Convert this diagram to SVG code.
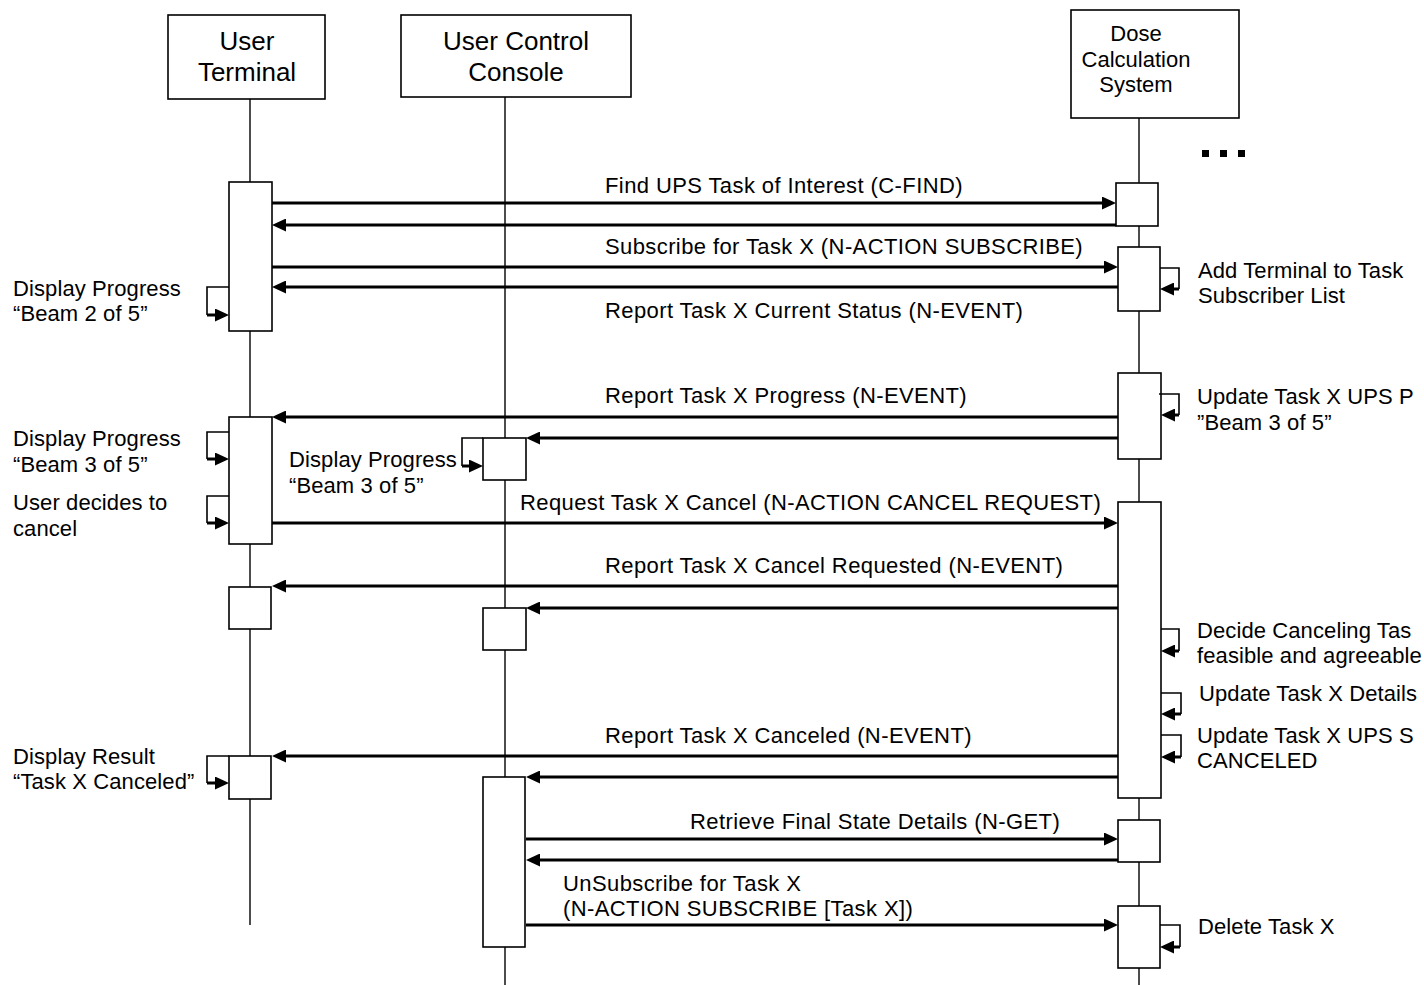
<svg xmlns="http://www.w3.org/2000/svg" width="1424" height="985" viewBox="0 0 1424 985">
  <style>
    text { font-family: "Liberation Sans", Arial, Helvetica, sans-serif; fill: #000; }
    .hdr { font-size: 26px; text-anchor: middle; }
    .hdr2 { font-size: 22px; text-anchor: middle; }
    .lbl { font-size: 22px; letter-spacing: 0.4px; }
    .note { font-size: 22px; letter-spacing: 0.1px; }
    .head { fill: #fff; stroke: #000; stroke-width: 1.6; }
    .life { stroke: #000; stroke-width: 1.4; fill: none; }
    .act { fill: #fff; stroke: #000; stroke-width: 1.6; }
    .msg { stroke: #000; stroke-width: 3; fill: none; marker-end: url(#ah); }
    .loop { stroke: #000; stroke-width: 1.6; fill: none; }
    .loopend { stroke: #000; stroke-width: 3; fill: none; marker-end: url(#ah); }
  </style>
  <defs>
    <marker id="ah" viewBox="0 0 14 13" refX="6" refY="6.5" markerWidth="14" markerHeight="13" markerUnits="userSpaceOnUse" orient="auto">
      <path d="M0,0 L14,6.5 L0,13 z" fill="#000"/>
    </marker>
  </defs>
  <rect width="1424" height="985" fill="#fff"/>

  <!-- lifelines -->
  <g id="lifelines">
    <line class="life" x1="250" y1="99" x2="250" y2="925"/>
    <line class="life" x1="505" y1="97" x2="505" y2="985"/>
    <line class="life" x1="1139" y1="118" x2="1139" y2="985"/>
  </g>

  <!-- participants -->
  <g id="user-terminal">
    <rect class="head" x="168" y="15" width="157" height="84"/>
    <text class="hdr" x="247" y="50">User</text>
    <text class="hdr" x="247" y="81">Terminal</text>
  </g>
  <g id="user-control-console">
    <rect class="head" x="401" y="15" width="230" height="82"/>
    <text class="hdr" x="516" y="50">User Control</text>
    <text class="hdr" x="516" y="81">Console</text>
  </g>
  <g id="dose-calculation-system">
    <rect class="head" x="1071" y="10" width="168" height="108"/>
    <text class="hdr2" x="1136" y="41">Dose</text>
    <text class="hdr2" x="1136" y="67">Calculation</text>
    <text class="hdr2" x="1136" y="92">System</text>
  </g>

  <!-- continuation marks -->
  <g id="ellipsis">
    <rect x="1202" y="150" width="7" height="7" fill="#000"/>
    <rect x="1220" y="150" width="7" height="7" fill="#000"/>
    <rect x="1238" y="150" width="7" height="7" fill="#000"/>
  </g>

  <!-- activation bars -->
  <g id="activations-terminal">
    <rect class="act" x="229" y="182" width="43" height="149"/>
    <rect class="act" x="229" y="417" width="43" height="127"/>
    <rect class="act" x="229" y="587" width="42" height="42"/>
    <rect class="act" x="229" y="756" width="42" height="43"/>
  </g>
  <g id="activations-console">
    <rect class="act" x="483" y="438" width="43" height="42"/>
    <rect class="act" x="483" y="608" width="43" height="42"/>
    <rect class="act" x="483" y="777" width="42" height="170"/>
  </g>
  <g id="activations-dcs">
    <rect class="act" x="1116" y="183" width="42" height="43"/>
    <rect class="act" x="1118" y="247" width="42" height="64"/>
    <rect class="act" x="1118" y="373" width="43" height="86"/>
    <rect class="act" x="1118" y="502" width="43" height="296"/>
    <rect class="act" x="1118" y="820" width="42" height="42"/>
    <rect class="act" x="1118" y="906" width="42" height="62"/>
  </g>

  <!-- messages -->
  <g id="connectors">
    <line class="msg" x1="272" y1="203" x2="1108" y2="203"/>
    <line class="msg" x1="1116" y1="225" x2="280" y2="225"/>
    <line class="msg" x1="272" y1="267" x2="1110" y2="267"/>
    <line class="msg" x1="1118" y1="287" x2="280" y2="287"/>
    <line class="msg" x1="1118" y1="417" x2="280" y2="417"/>
    <line class="msg" x1="1118" y1="438" x2="534" y2="438"/>
    <line class="msg" x1="272" y1="523" x2="1110" y2="523"/>
    <line class="msg" x1="1118" y1="586" x2="280" y2="586"/>
    <line class="msg" x1="1118" y1="608" x2="534" y2="608"/>
    <line class="msg" x1="1118" y1="756" x2="280" y2="756"/>
    <line class="msg" x1="1118" y1="777" x2="534" y2="777"/>
    <line class="msg" x1="526" y1="839" x2="1110" y2="839"/>
    <line class="msg" x1="1118" y1="860" x2="534" y2="860"/>
    <line class="msg" x1="526" y1="925" x2="1110" y2="925"/>

    <!-- self calls, terminal -->
    <polyline class="loop" points="229,287 207,287 207,315"/>
    <line class="loopend" x1="207" y1="315" x2="221" y2="315"/>
    <polyline class="loop" points="229,432 207,432 207,459"/>
    <line class="loopend" x1="207" y1="459" x2="221" y2="459"/>
    <polyline class="loop" points="229,496 207,496 207,523"/>
    <line class="loopend" x1="207" y1="523" x2="221" y2="523"/>
    <polyline class="loop" points="229,756 207,756 207,783"/>
    <line class="loopend" x1="207" y1="783" x2="221" y2="783"/>

    <!-- self call, console -->
    <polyline class="loop" points="483,438 462,438 462,466"/>
    <line class="loopend" x1="462" y1="466" x2="475" y2="466"/>

    <!-- self calls, dose calculation system -->
    <polyline class="loop" points="1160,268 1179,268 1179,289"/>
    <line class="loopend" x1="1179" y1="289" x2="1168" y2="289"/>
    <polyline class="loop" points="1159,394 1179,394 1179,415"/>
    <line class="loopend" x1="1179" y1="415" x2="1169" y2="415"/>
    <polyline class="loop" points="1161,629 1179,629 1179,651"/>
    <line class="loopend" x1="1179" y1="651" x2="1169" y2="651"/>
    <polyline class="loop" points="1161,693 1181,693 1181,714"/>
    <line class="loopend" x1="1181" y1="714" x2="1169" y2="714"/>
    <polyline class="loop" points="1161,735 1181,735 1181,757"/>
    <line class="loopend" x1="1181" y1="757" x2="1169" y2="757"/>
    <polyline class="loop" points="1160,925 1180,925 1180,947"/>
    <line class="loopend" x1="1180" y1="947" x2="1168" y2="947"/>
  </g>

  <!-- message labels -->
  <g id="message-labels">
    <text class="lbl" x="605" y="193">Find UPS Task of Interest (C-FIND)</text>
    <text class="lbl" x="605" y="254">Subscribe for Task X (N-ACTION SUBSCRIBE)</text>
    <text class="lbl" x="605" y="318">Report Task X Current Status (N-EVENT)</text>
    <text class="lbl" x="605" y="403">Report Task X Progress (N-EVENT)</text>
    <text class="lbl" x="520" y="510">Request Task X Cancel (N-ACTION CANCEL REQUEST)</text>
    <text class="lbl" x="605" y="573">Report Task X Cancel Requested (N-EVENT)</text>
    <text class="lbl" x="605" y="743">Report Task X Canceled (N-EVENT)</text>
    <text class="lbl" x="690" y="829">Retrieve Final State Details (N-GET)</text>
    <text class="lbl" x="563" y="891">UnSubscribe for Task X</text>
    <text class="lbl" x="563" y="916">(N-ACTION SUBSCRIBE [Task X])</text>
  </g>

  <!-- activity notes -->
  <g id="notes">
    <text class="note" x="13" y="296">Display Progress</text>
    <text class="note" x="13" y="321">“Beam 2 of 5”</text>
    <text class="note" x="1198" y="278">Add Terminal to Task</text>
    <text class="note" x="1198" y="303">Subscriber List</text>
    <text class="note" x="1197" y="404">Update Task X UPS P</text>
    <text class="note" x="1197" y="430">”Beam 3 of 5”</text>
    <text class="note" x="13" y="446">Display Progress</text>
    <text class="note" x="13" y="472">“Beam 3 of 5”</text>
    <text class="note" x="289" y="467">Display Progress</text>
    <text class="note" x="289" y="493">“Beam 3 of 5”</text>
    <text class="note" x="13" y="510">User decides to</text>
    <text class="note" x="13" y="536">cancel</text>
    <text class="note" x="1197" y="638">Decide Canceling Tas</text>
    <text class="note" x="1197" y="663">feasible and agreeable</text>
    <text class="note" x="1199" y="701">Update Task X Details</text>
    <text class="note" x="1197" y="743">Update Task X UPS S</text>
    <text class="note" x="1197" y="768">CANCELED</text>
    <text class="note" x="13" y="764">Display Result</text>
    <text class="note" x="13" y="789">“Task X Canceled”</text>
    <text class="note" x="1198" y="934">Delete Task X</text>
  </g>
</svg>
